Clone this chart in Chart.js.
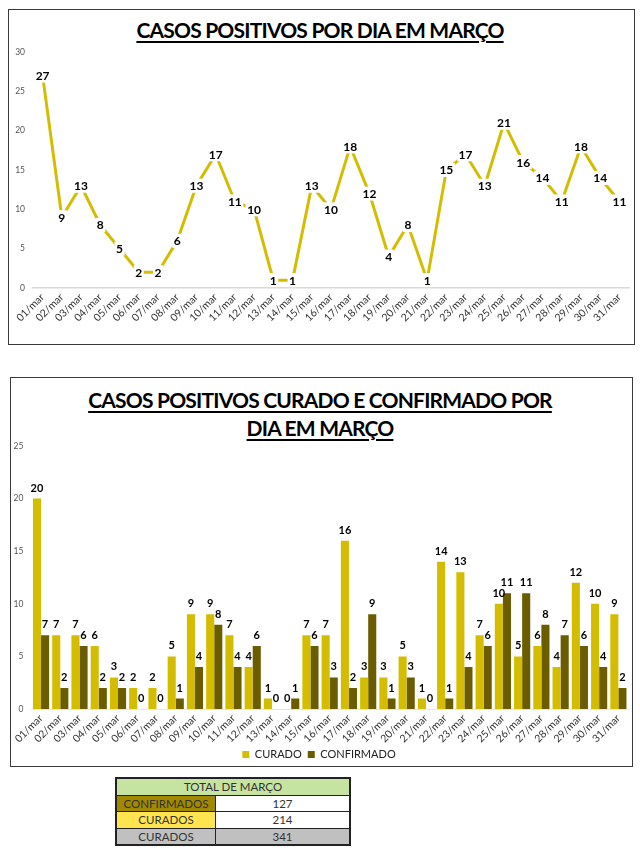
<!DOCTYPE html>
<html><head><meta charset="utf-8">
<script src="https://cdn.jsdelivr.net/npm/chart.js@4.4.1/dist/chart.umd.min.js"></script>
<style>
html,body{margin:0;padding:0;background:#fff;}
body{width:640px;height:858px;position:relative;overflow:hidden;font-family:Lato,"Open Sans",sans-serif;}
.box{position:absolute;border:1.5px solid #3a3a3a;box-sizing:border-box;background:#fff;}
.title{position:absolute;left:0;width:100%;text-align:center;font-weight:bold;font-size:21px;letter-spacing:-0.8px;line-height:28px;text-decoration:underline;text-decoration-thickness:2px;text-underline-offset:3px;color:#000;white-space:nowrap;}
canvas{position:absolute;}
table{position:absolute;left:115px;top:777px;width:236px;border-collapse:collapse;border:2px solid #222;font-size:11.5px;color:#333;}
td{border:1px solid #222;text-align:center;height:15.5px;padding:0;line-height:15px;}
</style></head>
<body>
<div class="box" style="left:8px;top:9px;width:627px;height:336px;"></div>
<div class="title" style="top:16px;">CASOS POSITIVOS POR DIA EM MARÇO</div>
<canvas id="c1" width="627" height="336" style="left:8px;top:9px;width:627px;height:336px;"></canvas>

<div class="box" style="left:10px;top:377px;width:623px;height:390px;"></div>
<div class="title" style="top:386px;">CASOS POSITIVOS CURADO E CONFIRMADO POR<br>DIA EM MARÇO</div>
<canvas id="c2" width="623" height="390" style="left:10px;top:377px;width:623px;height:390px;"></canvas>

<table id="tot"></table>

<script>
// ---- DATA ----
const days = ['01/mar','02/mar','03/mar','04/mar','05/mar','06/mar','07/mar','08/mar','09/mar','10/mar','11/mar','12/mar','13/mar','14/mar','15/mar','16/mar','17/mar','18/mar','19/mar','20/mar','21/mar','22/mar','23/mar','24/mar','25/mar','26/mar','27/mar','28/mar','29/mar','30/mar','31/mar'];
const positivos = [27,9,13,8,5,2,2,6,13,17,11,10,1,1,13,10,18,12,4,8,1,15,17,13,21,16,14,11,18,14,11];
const curado = [20,7,7,6,3,2,2,5,9,9,7,4,1,0,7,7,16,3,3,5,1,14,13,7,10,5,6,4,12,10,9];
const confirmado = [7,2,6,2,2,0,0,1,4,8,4,6,0,1,6,3,2,9,1,3,0,1,4,6,11,11,8,7,6,4,2];
const totalTitle = 'TOTAL DE MARÇO';
const totalLabels = ['CONFIRMADOS','CURADOS','CURADOS'];
const totalValues = [127,214,341];

const YELLOW = '#d4bd00';
const DARK = '#6b5c00';
const FONT = 'Lato, "Open Sans", sans-serif';

function labelPlugin(mode, fontSize){
  return {
    id:'vlabels_'+mode,
    afterDatasetsDraw(chart){
      const ctx = chart.ctx;
      chart.data.datasets.forEach((ds,i)=>{
        const meta = chart.getDatasetMeta(i);
        meta.data.forEach((el,j)=>{
          const t = String(ds.data[j]);
          ctx.save();
          ctx.font = 'bold '+fontSize+'px '+FONT;
          ctx.textAlign='center';
          ctx.textBaseline='middle';
          let x = el.x, y = el.y;
          if(mode==='center'){
            const w = ctx.measureText(t).width;
            ctx.fillStyle='#fff';
            ctx.fillRect(x-w/2-1.5, y-7, w+3, 14);
          } else {
            y = el.y - 11;
          }
          ctx.fillStyle='#000';
          ctx.fillText(t, x, y+0.5);
          ctx.restore();
        });
      });
    }
  };
}

Chart.defaults.font.family = FONT;
Chart.defaults.animation = false;

new Chart(document.getElementById('c1'), {
  type:'line',
  data:{labels:days, datasets:[{label:'Positivos', data:positivos, borderColor:YELLOW, borderWidth:3, pointRadius:0, tension:0, fill:false}]},
  options:{
    responsive:false, animation:false,
    layout:{padding:{top:43,right:6,left:0,bottom:0}},
    plugins:{legend:{display:false}, tooltip:{enabled:false}},
    scales:{
      x:{offset:true, grid:{display:false, drawTicks:false}, border:{display:true,color:'#d9d9d9',width:1.5},
         ticks:{autoSkip:false, maxRotation:45, minRotation:45, padding:3, color:'#333', font:{size:10.5}},
         afterFit(s){ s.height = 57; }},
      y:{min:0, max:30, grid:{display:false, drawTicks:false}, border:{display:false},
         ticks:{stepSize:5, padding:8, color:'#555', font:{size:8.5}},
         afterFit(s){ s.width = 25; }}
    }
  },
  plugins:[labelPlugin('center',12)]
});

new Chart(document.getElementById('c2'), {
  type:'bar',
  data:{labels:days, datasets:[
    {label:'CURADO', data:curado, backgroundColor:YELLOW, categoryPercentage:0.84, barPercentage:1.0},
    {label:'CONFIRMADO', data:confirmado, backgroundColor:DARK, categoryPercentage:0.84, barPercentage:1.0}
  ]},
  options:{
    responsive:false, animation:false,
    layout:{padding:{top:69,right:5,left:0,bottom:-3}},
    plugins:{
      tooltip:{enabled:false},
      legend:{position:'bottom', labels:{boxWidth:7, boxHeight:7, padding:6, color:'#222', font:{size:11}}}
    },
    scales:{
      x:{offset:true, grid:{display:false, drawTicks:false}, border:{display:true,color:'#e6e6e6',width:1},
         ticks:{autoSkip:false, maxRotation:45, minRotation:45, padding:3, color:'#333', font:{size:10.5}},
         afterFit(s){ s.height = 34; }},
      y:{min:0, max:25, grid:{display:false, drawTicks:false}, border:{display:false},
         ticks:{stepSize:5, padding:8, color:'#555', font:{size:8.5}},
         afterFit(s){ s.width = 21.4; }}
    }
  },
  plugins:[labelPlugin('top',11)]
});

// totals table
const tbl = document.getElementById('tot');
const bgs = [['#a08800','#ffffff'],['#ffe34f','#ffffff'],['#c0c0c0','#c0c0c0']];
let html = '<tr><td colspan="2" style="background:#c6e3a2">'+totalTitle+'</td></tr>';
totalLabels.forEach((l,i)=>{
  html += '<tr><td style="width:98px;background:'+bgs[i][0]+'">'+l+'</td><td style="background:'+bgs[i][1]+'">'+totalValues[i]+'</td></tr>';
});
tbl.innerHTML = html;
</script>
</body></html>
